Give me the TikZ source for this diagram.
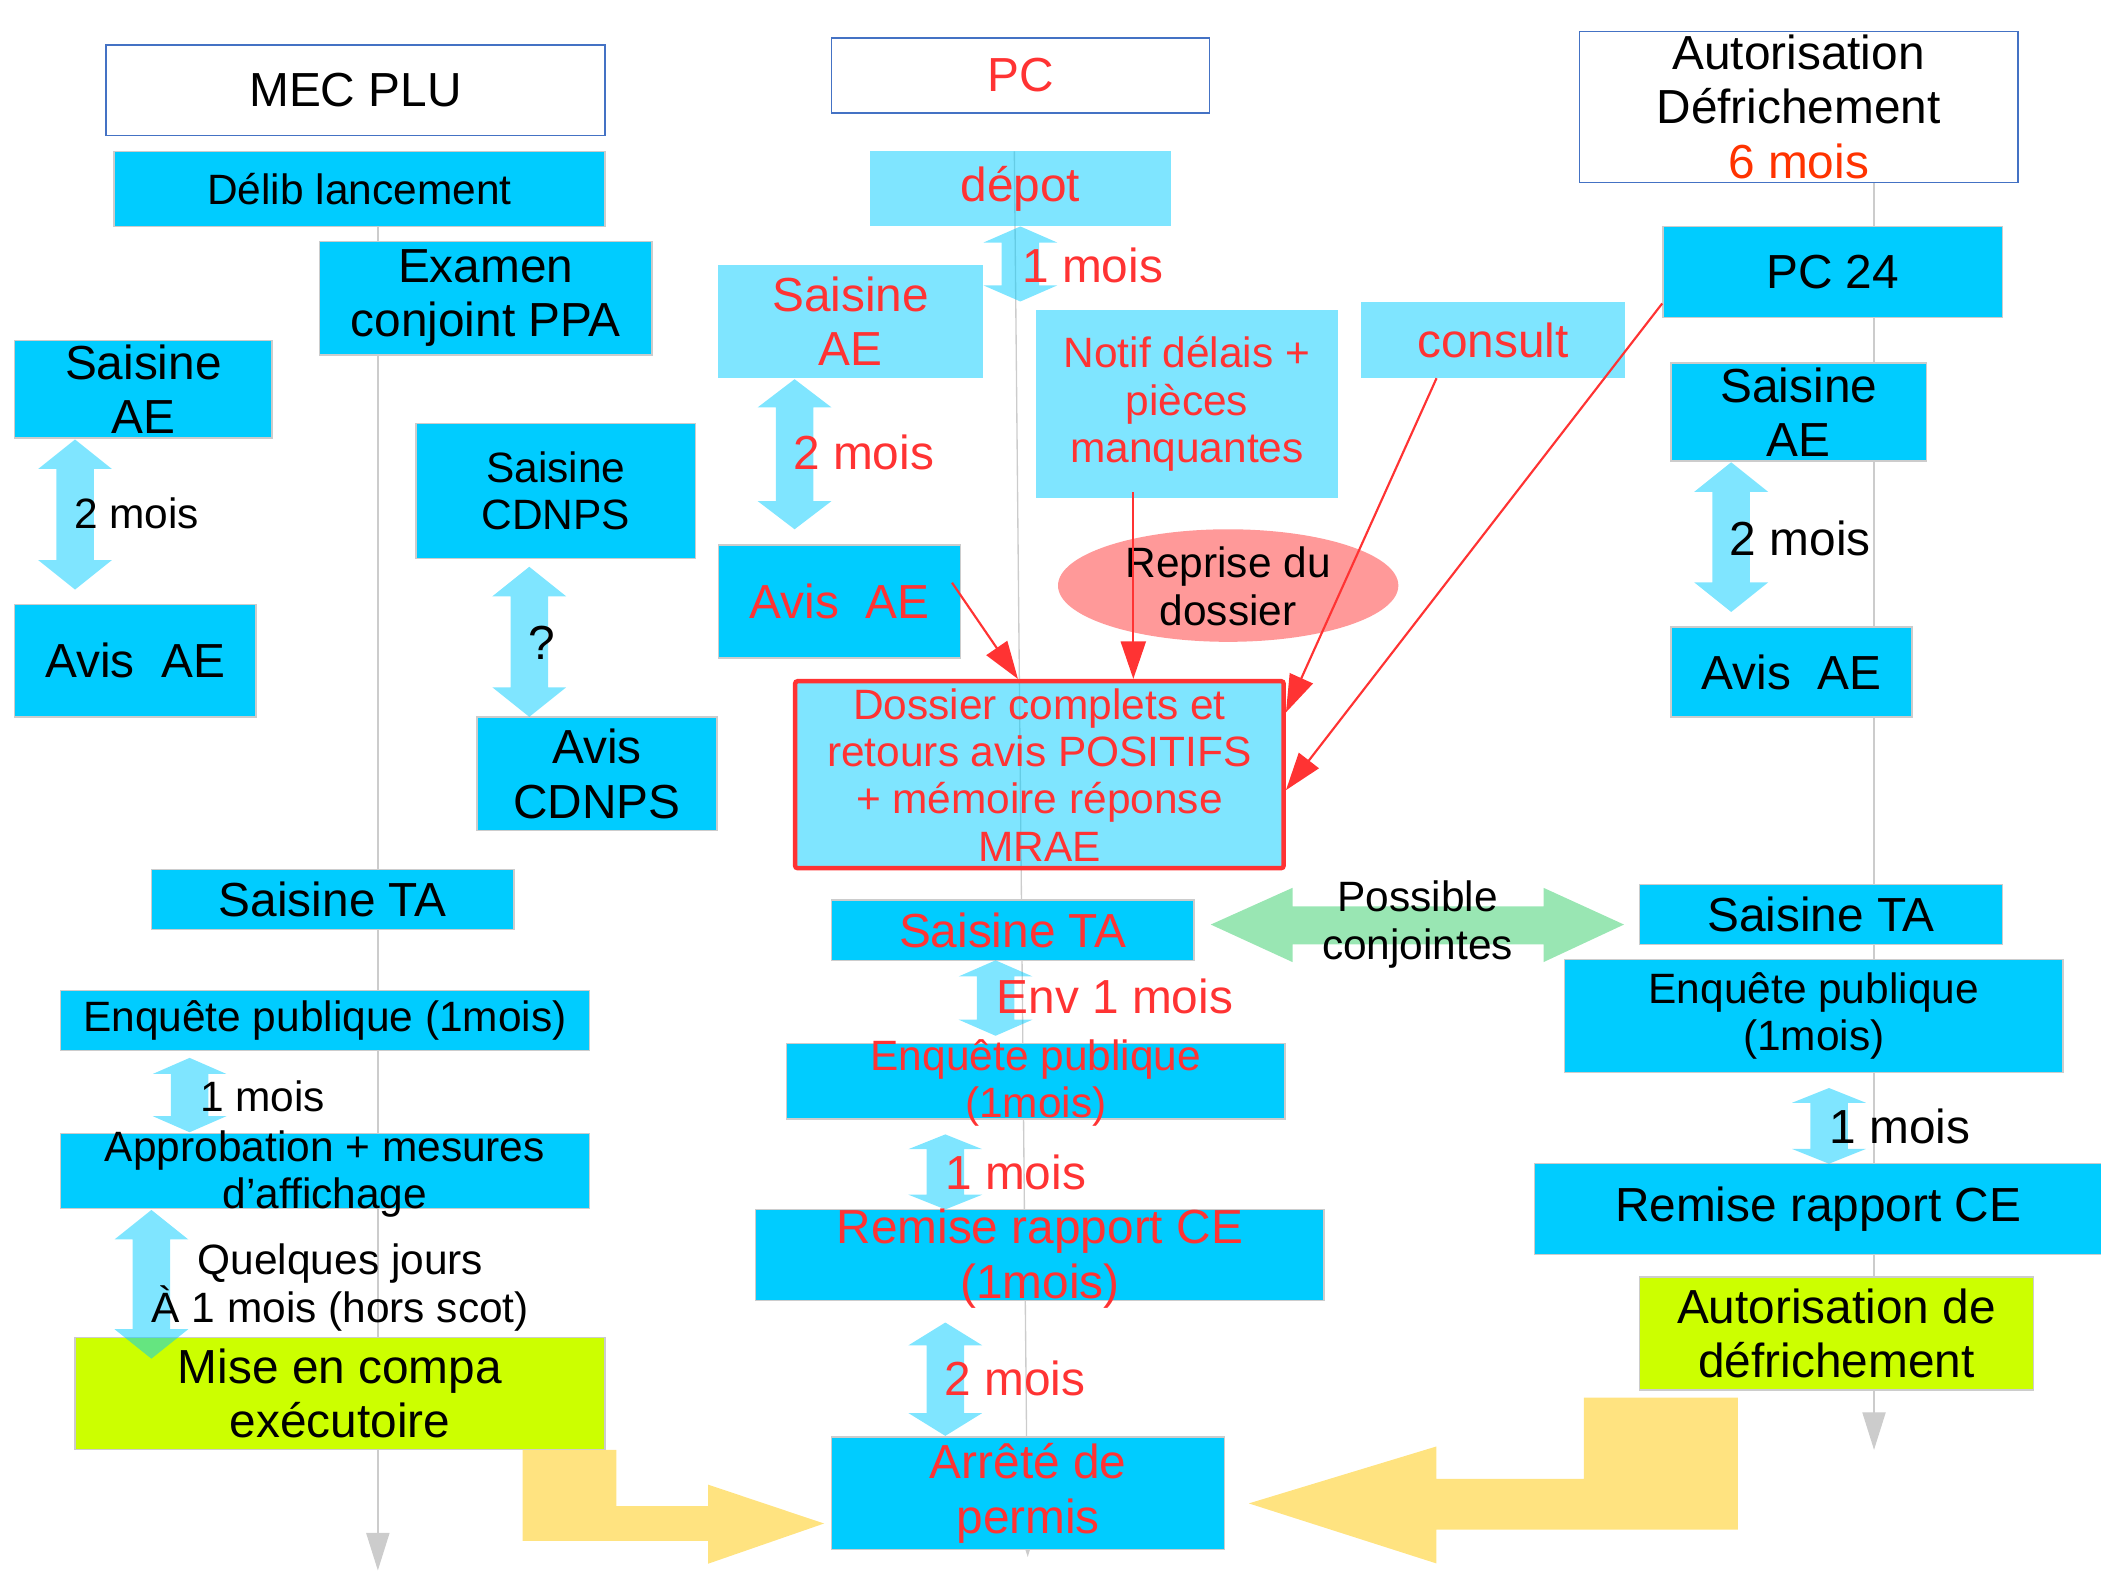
\documentclass[tikz,border=0pt]{standalone}
\usepackage{fontspec}
\setmainfont{Liberation Sans}
\usetikzlibrary{arrows.meta,shapes.geometric,backgrounds}

\definecolor{ccyan}{RGB}{0,204,255}
\definecolor{txtred}{RGB}{255,51,51}
\definecolor{adred}{RGB}{255,51,0}
\definecolor{hdblue}{RGB}{68,114,196}
\definecolor{bxgray}{RGB}{204,204,204}
\definecolor{tlgray}{RGB}{204,204,204}
\definecolor{limefill}{RGB}{204,255,0}
\definecolor{sand}{RGB}{255,227,128}
\definecolor{mint}{RGB}{153,230,179}
\definecolor{rosefill}{RGB}{255,153,153}

% double arrow: centre x, top y, bottom y, head length
\newcommand{\dbarrow}[4]{%
  \fill [dbfill] (#1,#2) -- (#1+27.5,#2+#4) -- (#1+14,#2+#4) -- (#1+14,#3-#4) -- (#1+27.5,#3-#4) -- (#1,#3) -- (#1-27.5,#3-#4) -- (#1-14,#3-#4) -- (#1-14,#2+#4) -- (#1-27.5,#2+#4) -- cycle ;}

\begin{document}
\begin{tikzpicture}[x=0.75pt,y=0.75pt,yscale=-1,xscale=1,
  big/.style={font=\fontsize{26.75}{30.5}\selectfont},
  mid/.style={font=\fontsize{23.75}{26.5}\selectfont},
  sz/.style 2 args={minimum width=#1*0.75pt,minimum height=#2*0.75pt},
  hd/.style={draw=hdblue,line width=0.75pt,fill=white,inner sep=0pt,align=center},
  bx/.style={draw=bxgray,line width=0.75pt,fill=ccyan,inner sep=0pt,align=center},
  lbx/.style={fill=ccyan,fill opacity=0.5,text opacity=1,inner sep=0pt,align=center,text=txtred},
  dbfill/.style={fill=ccyan,fill opacity=0.5},
  timeline/.style={draw=tlgray,line width=0.75pt,-{Triangle[length=21pt,width=13pt]}},
  redarrow/.style={draw=txtred,line width=1.2pt,-{Triangle[length=21pt,width=14pt]}}]
\useasboundingbox (0,0) rectangle (1568,1175);

%Shape: Rectangle (headers)
\draw (265.25,67.5) node [hd,big,sz={372.5}{67.6}] (mecHead) {MEC PLU};
\draw (761.5,56.3) node [hd,big,sz={282}{56},text=txtred] (pcHead) {PC};
\draw (1342.3,79.7) node [hd,big,sz={327.4}{112.7}] (adHead) {Autorisation\\Défrichement\\\textcolor{adred}{6 mois}};

%Shape: Rectangle (MEC PLU)
\draw (268.25,141) node [bx,mid,sz={366.5}{56}] (delib) {Délib lancement};
\draw (362.5,222.5) node [bx,big,sz={248}{85}] (examen) {Examen\\conjoint PPA};
\draw (107,290.5) node [bx,big,sz={192}{73}] (saisAE1) {Saisine\\AE};
\draw (101,493) node [bx,big,sz={180}{84}] (avisAE1) {Avis\ \ AE};
\draw (414.75,366.5) node [bx,mid,sz={208.5}{101}] (saisCDNPS) {Saisine\\CDNPS};
\draw (445.5,577.5) node [bx,big,sz={179}{85}] (avisCDNPS) {Avis\\CDNPS};
\draw (248.25,671.2) node [bx,big,sz={270.5}{44.8}] (saisTA1) {Saisine TA};
\draw (242.5,761.5) node [bx,mid,sz={395}{45}] (enq1) {Enquête publique (1mois)};
\draw (242.5,874) node [bx,sz={395}{56}] (appro) {};
\draw (253.75,1040) node [bx,big,sz={395.5}{84},fill=limefill] (mise) {Mise en compa\\exécutoire};

%Shape: Rectangle (PC)
\draw (761.5,141) node [lbx,big,sz={225}{56}] (depot) {dépot};
\draw (634.75,239.85) node [lbx,big,sz={197.5}{84.3}] (saisAE2) {Saisine\\AE};
\draw (626.5,448.85) node [bx,big,sz={181}{84.3},text=txtred] (avisAE2) {Avis\ \ AE};
\draw (885.8,301.5) node [lbx,mid,sz={225.6}{141}] (notif) {Notif délais +\\pièces\\manquantes};
\draw (1114.1,253.85) node [lbx,big,sz={197}{56.3}] (consult) {consult};
%Shape: Ellipse
\draw (916.6,437) node [ellipse,fill=rosefill,inner sep=0pt,sz={254}{84}] (reprise) {};
\draw (775.7,578.15) node [lbx,mid,sz={364.7}{139.6},draw=txtred,line width=2.5pt,rounded corners=1.5pt] (dossier) {Dossier complets et\\retours avis POSITIFS\\+ mémoire réponse\\MRAE};
\draw (755.85,694.2) node [bx,big,sz={270.3}{45},text=txtred] (saisTA2) {Saisine TA};
\draw (773,806.85) node [bx,sz={372}{56.3}] (enq2) {};
\draw (776,936.7) node [bx,sz={424}{67.8}] (remise2) {};
\draw (767.35,1114.5) node [bx,big,sz={293.3}{84.2},text=txtred] (arrete) {Arrêté de\\permis};

%Shape: Rectangle (Autorisation Defrichement)
\draw (1367.8,203) node [bx,big,sz={253.6}{68}] (pc24) {PC 24};
\draw (1342.5,307.5) node [bx,big,sz={191}{73}] (saisAE3) {Saisine\\AE};
\draw (1337,501.5) node [bx,big,sz={180}{67}] (avisAE3) {Avis\ \ AE};
\draw (1359.1,682.35) node [bx,big,sz={271}{44.7}] (saisTA3) {Saisine TA};
\draw (1353.6,758.3) node [bx,mid,sz={372}{84.6}] (enq3) {Enquête publique\\(1mois)};
\draw (1357,902.25) node [bx,big,sz={424}{67.5}] (remise3) {Remise rapport CE};
\draw (1370.6,995.2) node [bx,big,sz={294}{84.4},fill=limefill] (autoDef) {Autorisation de\\défrichement};

%Straight Lines (time lines)
\coordinate (tl1) at (282,1172);
\coordinate (tl2a) at (757,113);
\coordinate (tl2b) at (767,1162);
\coordinate (tl3) at (1398.6,1082);
\begin{scope}[on background layer]
\draw [timeline] (delib.south -| tl1) -- (tl1);
\draw [timeline] (tl2a) -- (tl2b);
\draw [timeline] (adHead.south -| tl3) -- (tl3);
\end{scope}

%Shape: Double Arrow
\dbarrow{56}{328}{440}{22}
\dbarrow{395}{423}{535}{22}
\dbarrow{141.5}{789.5}{845}{12}
\dbarrow{113}{903}{1014}{22}
\dbarrow{761.5}{169}{225}{12}
\dbarrow{593}{283}{395}{21}
\dbarrow{743}{716.7}{773}{12}
\dbarrow{705.5}{846.6}{902.6}{11}
\dbarrow{705.5}{987}{1071.6}{17}
\dbarrow{1292}{345}{456.7}{22}
\dbarrow{1365}{812}{868.5}{11}
\fill [mint] (903.6,690) -- (964.6,662.6) -- (964.6,676.4) -- (1152,676.4) -- (1152,662.6) -- (1212,690) -- (1152,718) -- (1152,704.7) -- (964.6,704.7) -- (964.6,718) -- cycle ;

%Shape: Bent Arrow
\fill [sand] (390,1082) -- (460,1082) -- (460,1124) -- (528.5,1124) -- (528.5,1108) -- (615,1137) -- (528.5,1167) -- (528.5,1150) -- (390,1150) -- cycle ;
\fill [sand] (1297,1043) -- (1297,1141.6) -- (1072,1141.6) -- (1072,1166.8) -- (932,1122) -- (1072,1079.5) -- (1072,1103.7) -- (1182,1103.7) -- (1182,1043) -- cycle ;

% Text Node
\draw (242.5,876) node [mid,align=center] (approTxt) {Approbation + mesures\\d’affichage};
\draw (916.6,437.5) node [mid,align=center] (repriseTxt) {Reprise du\\dossier};
\draw (773,808) node [mid,align=center,text=txtred] (enq2Txt) {Enquête publique\\(1mois)};
\draw (776,939.5) node [big,align=center,text=txtred] (remise2Txt) {Remise rapport CE\\(1mois)};
\draw (102,383) node [mid] (lblA) {2 mois};
\draw (404,480) node [big] (lblB) {?};
\draw (196,818) node [mid] (lblC) {1 mois};
\draw (254,961) node [mid,align=center] (lblD) {Quelques jours\\À 1 mois (hors scot)};
\draw (815.5,198) node [big,text=txtred] (lblE) {1 mois};
\draw (644.5,338) node [big,text=txtred] (lblF) {2 mois};
\draw (832,744) node [big,text=txtred] (lblG) {Env 1 mois};
\draw (758,875) node [big,text=txtred] (lblH) {1 mois};
\draw (757.5,1029) node [big,text=txtred] (lblI) {2 mois};
\draw (1343.6,401.7) node [big] (lblJ) {2 mois};
\draw (1417.8,841) node [big] (lblK) {1 mois};
\draw (1058,690) node [mid,align=center] (lblL) {Possible\\conjointes};

%Straight Lines (red arrows)
\coordinate (nt) at ([shift={(-40,-5)}]notif.south);
\draw [redarrow] ([shift={(-7,-14)}]avisAE2.east) -- ([shift={(-16,0)}]dossier.north);
\draw [redarrow] (nt) -- (nt |- dossier.north);
\draw [redarrow] ([shift={(-42,0)}]consult.south) -- ([shift={(0,25)}]dossier.north east);
\draw [redarrow] ([shift={(0,-11)}]pc24.south west) -- ([shift={(0,83)}]dossier.north east);

\end{tikzpicture}
\end{document}
